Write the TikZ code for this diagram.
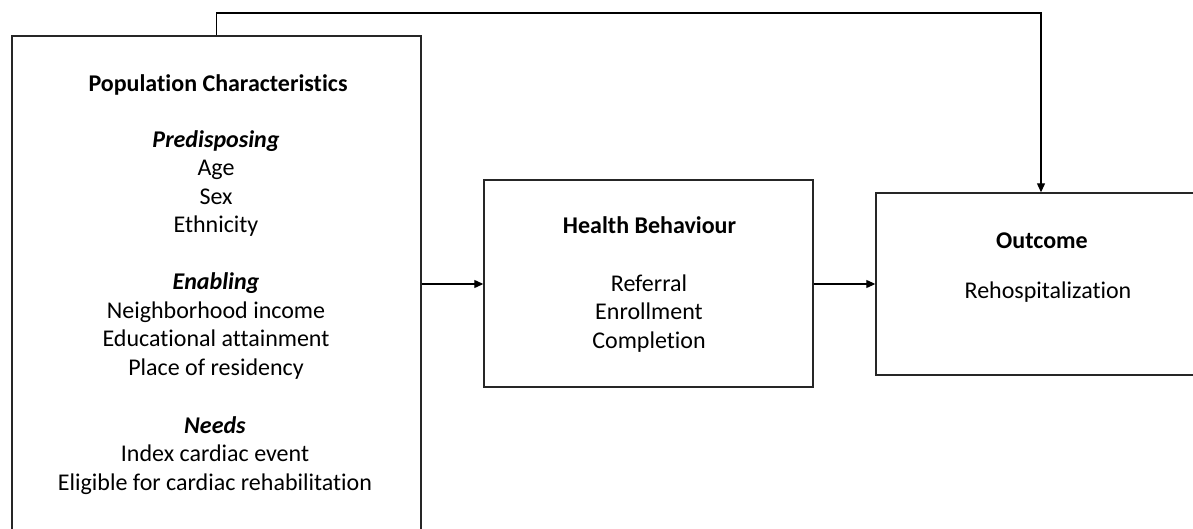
\documentclass[tikz,border=0pt]{standalone}
\usepackage{fontspec}
\setmainfont{Carlito}[Ligatures=NoCommon]
\usetikzlibrary{arrows.meta}
\tikzset{
  box/.style={draw=black!85, line width=1.4pt, fill=white, inner sep=0pt},
  txt/.style={align=center, inner sep=0pt, anchor=base, font=\fontsize{24}{28.5}\selectfont},
  ttl/.style={txt, font=\fontsize{24}{28.5}\selectfont\bfseries},
  conn/.style={line width=1.2pt, -{Triangle[length=9pt,width=8pt]}}
}
\begin{document}
\begin{tikzpicture}[x=1pt,y=-1pt]
\useasboundingbox (0,0) rectangle (1193,529);
\clip (0,0) rectangle (1193,529);
\node[box, minimum width=409pt, minimum height=540pt] (pop) at (216.5,306) {};
\node[box, minimum width=329pt, minimum height=207pt] (hb) at (648.5,283.5) {};
\node[box, minimum width=330pt, minimum height=182pt] (out) at (1041,284) {};

\node[ttl] (t1) at (218,92) {Population Characteristics};
% anchor=base of a multi-line node is the baseline of its last line
\node[txt] (t2) at (216,233) {\textbf{\textit{Predisposing}}\\Age\\Sex\\Ethnicity};
\node[txt] (t3) at (216,375) {\textbf{\textit{Enabling}}\\Neighborhood income\\Educational attainment\\Place of residency};
\node[txt] (t4) at (215,490) {\textbf{\textit{Needs}}\\Index cardiac event\\Eligible for cardiac rehabilitation};

\node[ttl] (h1) at (649.5,234) {Health Behaviour};
\node[txt] (h2) at (649,348) {Referral\\Enrollment\\Completion};

\node[ttl] (o1) at (1042,248) {Outcome};
\node[txt] (o2) at (1048,298) {Rehospitalization};

\draw[conn] (pop.east |- 0,284) -- (hb.west |- 0,284);
\draw[conn] (hb.east |- 0,284) -- (out.west |- 0,284);
\coordinate (topy) at (0,13);
\draw[conn] (pop.north) -- (pop.north |- topy) -| (out.north);
\end{tikzpicture}
\end{document}
